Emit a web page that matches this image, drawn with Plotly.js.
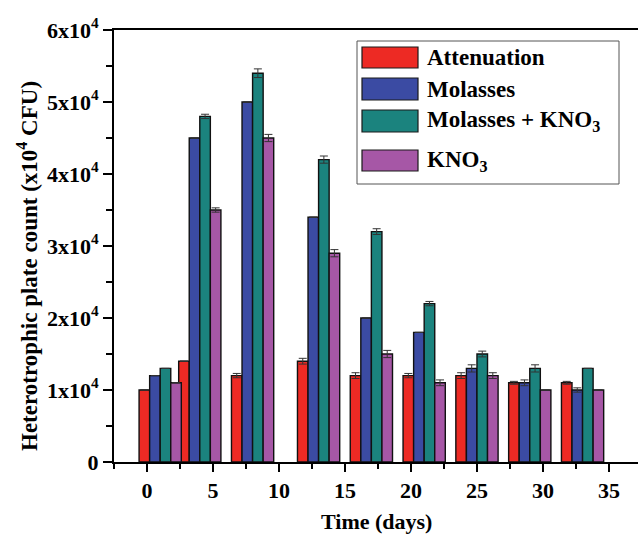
<!DOCTYPE html>
<html>
<head>
<meta charset="utf-8">
<script src="https://cdn.plot.ly/plotly-3.0.1.min.js"></script>
<style>html,body{margin:0;padding:0;background:#fff;}#chart{width:638px;height:537px;}</style>
</head>
<body>
<div id="chart"></div>
<script>
// ---- data ----
const days = [1, 4, 8, 13, 17, 21, 25, 29, 33];
const seriesNames = ["Attenuation", "Molasses", "Molasses + KNO<sub>3</sub>", "KNO<sub>3</sub>"];
const attenuation = [10000, 14000, 12000, 14000, 12000, 12000, 12000, 11000, 11000];
const molasses    = [12000, 45000, 50000, 34000, 20000, 18000, 13000, 11000, 10000];
const molassesKNO3 = [13000, 48000, 54000, 42000, 32000, 22000, 15000, 13000, 13000];
const kno3        = [11000, 35000, 45000, 29000, 15000, 11000, 12000, 10000, 10000];
const attenuationErr  = [0, 0, 300, 400, 400, 300, 400, 200, 200];
const molassesErr     = [0, 0, 0, 0, 0, 0, 500, 400, 300];
const molassesKNO3Err = [0, 300, 600, 500, 400, 300, 400, 500, 0];
const kno3Err         = [0, 300, 500, 500, 500, 400, 400, 0, 0];
const yTickVals = [0, 10000, 20000, 30000, 40000, 50000, 60000];
const yTickText = ["0", "1x10<sup>4</sup>", "2x10<sup>4</sup>", "3x10<sup>4</sup>", "4x10<sup>4</sup>", "5x10<sup>4</sup>", "6x10<sup>4</sup>"];
const xTickVals = [0, 5, 10, 15, 20, 25, 30, 35];
const xTitle = "Time (days)";
const yTitle = "Heterotrophic plate count (x10<sup>4</sup> CFU)";

// ---- styling ----
const colors = ["#ED2A24", "#3B4BA3", "#1B837E", "#A657A6"];
const offsets = [-1.6, -0.8, 0, 0.8];
const barWidth = 0.8;
const values = [attenuation, molasses, molassesKNO3, kno3];
const errs = [attenuationErr, molassesErr, molassesKNO3Err, kno3Err];
const FONT = "Liberation Serif, Times New Roman, serif";

const traces = values.map((v, i) => ({
  type: "bar",
  x: days,
  y: v,
  name: seriesNames[i],
  width: barWidth,
  offset: offsets[i],
  marker: {color: colors[i], line: {color: "#111", width: 1.4}},
  error_y: {type: "data", array: errs[i], visible: true, color: "#333", thickness: 1, width: 4},
  showlegend: false
}));

// plot area in pixels: left 114, right 638, top 30, bottom 462
const L = 114, R = 638, T = 30, B = 462;
const px = x => (x - L) / (R - L);
const py = y => (B - y) / (B - T);

const shapes = [{type: "rect", xref: "paper", yref: "paper", x0: px(357), x1: px(619), y0: py(184), y1: py(41),
  line: {color: "#555", width: 1}, fillcolor: "rgba(255,255,255,1)", layer: "above"}];
const annotations = [];
const legendRows = [[47, 68], [78, 100], [110, 132], [150, 171]];
const textY = [57, 89, 121, 161];
legendRows.forEach((r, i) => {
  shapes.push({type: "rect", xref: "paper", yref: "paper", x0: px(362), x1: px(418), y0: py(r[1]), y1: py(r[0]),
    line: {color: "#1a1a1a", width: 1.2}, fillcolor: colors[i], layer: "above"});
  annotations.push({xref: "paper", yref: "paper", x: px(425), y: py(textY[i]), xanchor: "left", yanchor: "middle",
    text: seriesNames[i], showarrow: false, font: {family: FONT, size: 23, color: "#000", weight: "bold"}});
});
annotations.push({xref: "paper", yref: "paper", x: px(27), y: py(266), xanchor: "center", yanchor: "middle",
  textangle: -90, text: yTitle, showarrow: false, font: {family: FONT, size: 23, color: "#000", weight: "bold"}});
annotations.push({xref: "paper", yref: "paper", x: px(376), y: py(521), xanchor: "center", yanchor: "middle",
  text: xTitle, showarrow: false, font: {family: FONT, size: 22, color: "#000", weight: "bold"}});

const layout = {
  width: 638, height: 537,
  margin: {l: L, r: 638 - R, t: T, b: 537 - B},
  paper_bgcolor: "#fff", plot_bgcolor: "#fff",
  barmode: "overlay",
  showlegend: false,
  font: {family: FONT, color: "#000"},
  xaxis: {
    range: [-2.5, 37.2], tickmode: "array", tickvals: xTickVals,
    ticks: "outside", ticklen: 8, tickwidth: 2, tickcolor: "#000",
    showline: true, linewidth: 2, linecolor: "#000", mirror: true,
    showgrid: false, zeroline: false,
    tickfont: {family: FONT, size: 22, color: "#000", weight: "bold"},
    minor: {ticks: "outside", ticklen: 5, tickwidth: 2, tickcolor: "#000", tickmode: "linear", tick0: 0, dtick: 2.5, showgrid: false}
  },
  yaxis: {
    range: [0, 60000], tickmode: "array", tickvals: yTickVals, ticktext: yTickText,
    ticks: "outside", ticklen: 9, tickwidth: 2, tickcolor: "#000",
    showline: true, linewidth: 2, linecolor: "#000", mirror: false,
    showgrid: false, zeroline: false,
    tickfont: {family: FONT, size: 22, color: "#000", weight: "bold"},
    minor: {ticks: "outside", ticklen: 6, tickwidth: 2, tickcolor: "#000", tickmode: "linear", tick0: 0, dtick: 5000, showgrid: false}
  },
  shapes: shapes,
  annotations: annotations
};

Plotly.newPlot("chart", traces, layout, {displayModeBar: false, staticPlot: true});
</script>
</body>
</html>
